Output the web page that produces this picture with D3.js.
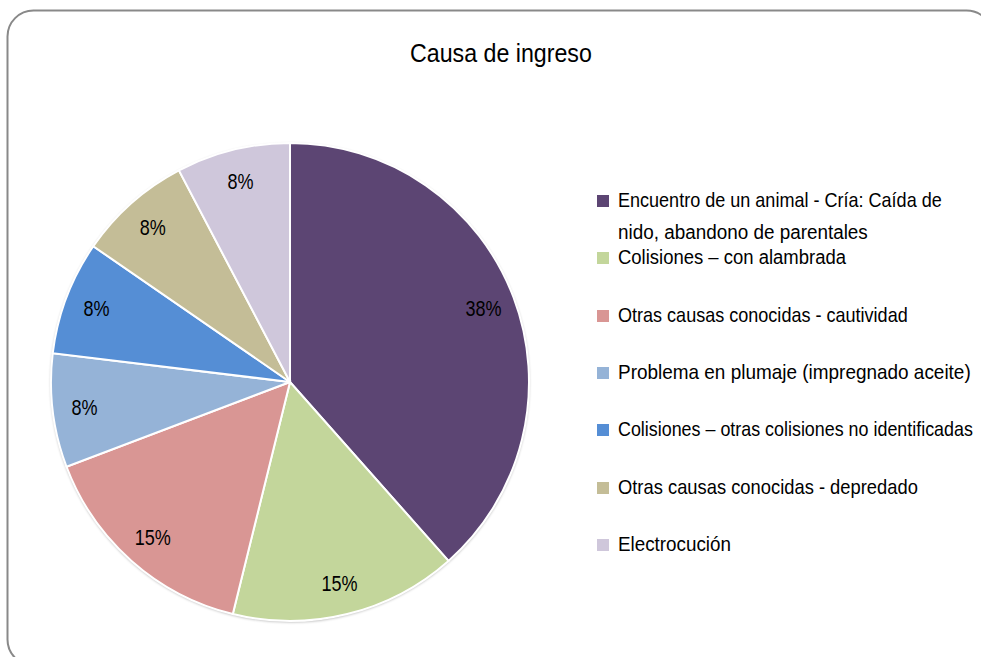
<!DOCTYPE html>
<html>
<head>
<meta charset="utf-8">
<script src="https://cdn.jsdelivr.net/npm/d3@7"></script>
<style>
  body { margin: 0; background: #fff; }
  text { font-family: "Liberation Sans", Arial, sans-serif; fill: #000; }
</style>
</head>
<body>
<div id="chart"></div>
<script>

// data
var categories = [
    "Encuentro de un animal - Cría: Caída de nido, abandono de parentales",
    "Colisiones – con alambrada",
    "Otras causas conocidas - cautividad",
    "Problema en plumaje (impregnado aceite)",
    "Colisiones – otras colisiones no identificadas",
    "Otras causas conocidas - depredado",
    "Electrocución"
];
var counts = [5, 2, 2, 1, 1, 1, 1];
var colors = ["#5C4573", "#C3D69B", "#D99694", "#95B3D7", "#558ED5", "#C4BD97", "#CFC7DB"];

// legend lines (first item wraps onto two lines)
var legendLines = [
    ["Encuentro de un animal - Cría: Caída de", "nido, abandono de parentales"],
    ["Colisiones – con alambrada"],
    ["Otras causas conocidas - cautividad"],
    ["Problema en plumaje (impregnado aceite)"],
    ["Colisiones – otras colisiones no identificadas"],
    ["Otras causas conocidas - depredado"],
    ["Electrocución"]
];
// measured widths of the squeezed legend text
var legendWidths = [[324, 250], [228], [290], [353], [355], [300], [113]];

var svg_dx = 981, svg_dy = 657;
var cx = 290, cy = 382, radius = 239;

var svg = d3.select("#chart")
            .append("svg")
            .attr("width", svg_dx)
            .attr("height", svg_dy);

// squeeze a text horizontally to a target width (narrow font look)
function squeeze(sel, width) {
    var w = sel.node().getComputedTextLength();
    var s = Math.min(1, width / w);
    sel.attr("transform", "scale(" + s + ",1)");
}

// outer frame
svg.append("rect")
   .attr("x", 7.5).attr("y", 10.5)
   .attr("width", 985).attr("height", 655)
   .attr("rx", 26).attr("ry", 26)
   .style("fill", "#fff")
   .style("stroke", "#898989")
   .style("stroke-width", 2);

var title = svg.append("g").attr("transform", "translate(410,62)")
   .append("text")
   .style("font-size", "25px")
   .text("Causa de ingreso");
squeeze(title, 182);

var defs = svg.append("defs");
var shadow = defs.append("filter").attr("id", "shadow")
    .attr("x", "-10%").attr("y", "-10%").attr("width", "120%").attr("height", "120%");
shadow.append("feGaussianBlur").attr("in", "SourceAlpha").attr("stdDeviation", 1.5);
shadow.append("feOffset").attr("dx", 0).attr("dy", 1).attr("result", "blur");
shadow.append("feComponentTransfer").append("feFuncA").attr("type", "linear").attr("slope", 0.35);
var merge = shadow.append("feMerge");
merge.append("feMergeNode");
merge.append("feMergeNode").attr("in", "SourceGraphic");

var total = d3.sum(counts);
var pie = d3.pie().sort(null).value(d => d);
var arcs = pie(counts);

var arc = d3.arc().innerRadius(0).outerRadius(radius);
var labelArc = d3.arc().innerRadius(207).outerRadius(207);

var g = svg.append("g")
           .attr("transform", "translate(" + cx + "," + cy + ")");

g.append("circle")
 .attr("r", radius)
 .style("fill", "#fff")
 .attr("filter", "url(#shadow)");

g.selectAll("path")
 .data(arcs)
 .enter()
 .append("path")
 .attr("d", arc)
 .style("fill", (d, i) => colors[i])
 .style("stroke", "#fff")
 .style("stroke-width", 2);

g.selectAll("g.pct")
 .data(arcs)
 .enter()
 .append("g")
 .attr("class", "pct")
 .attr("transform", d => "translate(" + labelArc.centroid(d) + ")")
 .append("text")
 .attr("text-anchor", "middle")
 .attr("dy", "0.35em")
 .style("font-size", "22px")
 .text(d => Math.round(d.data / total * 100) + "%")
 .each(function (d) {
     var t = d3.select(this);
     squeeze(t, t.node().getComputedTextLength() * 0.82);
 });

// legend
var legendY = [200, 257, 315, 372, 429, 487, 544];
var legend = svg.append("g");

categories.forEach(function (c, i) {
    var item = legend.append("g").attr("transform", "translate(597," + legendY[i] + ")");
    item.append("rect")
        .attr("x", 0).attr("y", -5)
        .attr("width", 12).attr("height", 12)
        .style("fill", colors[i]);
    legendLines[i].forEach(function (line, j) {
        var t = item.append("g")
            .attr("transform", "translate(21," + (j * 32) + ")")
            .append("text")
            .attr("dy", "0.35em")
            .style("font-size", "20px")
            .text(line);
        squeeze(t, legendWidths[i][j]);
    });
});

</script>
</body>
</html>
